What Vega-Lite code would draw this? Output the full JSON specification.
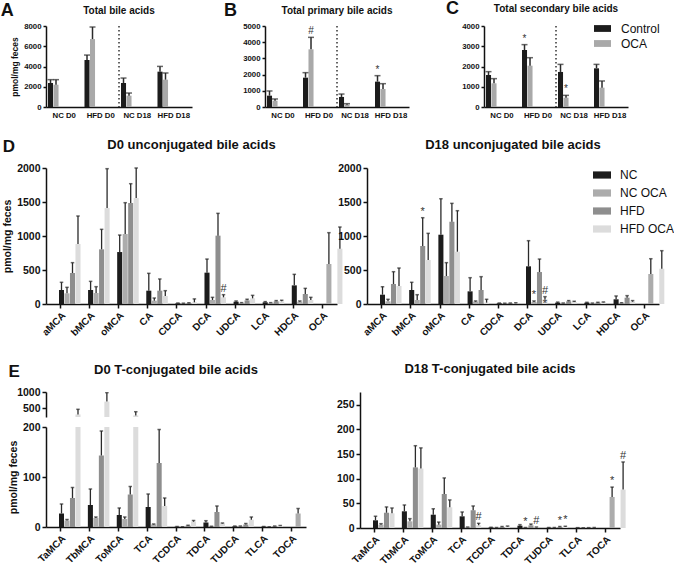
{
"$schema": "https://vega.github.io/schema/vega-lite/v6.json",
"padding": {"left": 0, "top": 0, "right": 0, "bottom": 0},
"background": "white",
"config": {
  "font": "Liberation Sans",
  "numberFormat": "d",
  "view": {"stroke": null},
  "axis": {"grid": false, "labelOverlap": false, "domainColor": "#111", "domainWidth": 1.5, "tickColor": "#111", "tickWidth": 1.5, "tickSize": 4, "labelFont": "Liberation Sans", "labelFontWeight": "bold", "labelFontSize": 10.5, "labelColor": "#111", "labelPadding": 2, "titleFont": "Liberation Sans", "titleFontWeight": "bold", "titleFontSize": 10.5, "titleColor": "#111", "titlePadding": 4},
  "title": {"font": "Liberation Sans", "fontWeight": "bold", "color": "#111"},
  "legend": {"labelFont": "Liberation Sans", "labelColor": "#111", "padding": 0}
},
"datasets": {
  "top": [
    {"p":"A","g":"NC D0","t":"Control","v":2370,"e":2700},
    {"p":"A","g":"NC D0","t":"OCA","v":2200,"e":2700},
    {"p":"A","g":"HFD D0","t":"Control","v":4640,"e":5130},
    {"p":"A","g":"HFD D0","t":"OCA","v":6710,"e":7900},
    {"p":"A","g":"NC D18","t":"Control","v":2370,"e":2860},
    {"p":"A","g":"NC D18","t":"OCA","v":1120,"e":1380},
    {"p":"A","g":"HFD D18","t":"Control","v":3490,"e":4010},
    {"p":"A","g":"HFD D18","t":"OCA","v":2700,"e":3360},
    {"p":"B","g":"NC D0","t":"Control","v":700,"e":990},
    {"p":"B","g":"NC D0","t":"OCA","v":390,"e":495},
    {"p":"B","g":"HFD D0","t":"Control","v":1810,"e":2120},
    {"p":"B","g":"HFD D0","t":"OCA","v":3560,"e":4300,"s":"#"},
    {"p":"B","g":"NC D18","t":"Control","v":620,"e":800},
    {"p":"B","g":"NC D18","t":"OCA","v":145,"e":205},
    {"p":"B","g":"HFD D18","t":"Control","v":1565,"e":1935,"s":"*"},
    {"p":"B","g":"HFD D18","t":"OCA","v":1110,"e":1440},
    {"p":"C","g":"NC D0","t":"Control","v":1580,"e":1745},
    {"p":"C","g":"NC D0","t":"OCA","v":1170,"e":1400},
    {"p":"C","g":"HFD D0","t":"Control","v":2815,"e":3080,"s":"*"},
    {"p":"C","g":"HFD D0","t":"OCA","v":2040,"e":2435},
    {"p":"C","g":"NC D18","t":"Control","v":1730,"e":2105},
    {"p":"C","g":"NC D18","t":"OCA","v":460,"e":575,"s":"*"},
    {"p":"C","g":"HFD D18","t":"Control","v":1910,"e":2105},
    {"p":"C","g":"HFD D18","t":"OCA","v":955,"e":1285}
  ],
  "sep": [{"g":"NC D18"}],
  "bars": [
    {"p":"D0","b":"aMCA","g":"NC","v":206,"e":319},
    {"p":"D0","b":"aMCA","g":"NC OCA","v":157,"e":245},
    {"p":"D0","b":"aMCA","g":"HFD","v":456,"e":608},
    {"p":"D0","b":"aMCA","g":"HFD OCA","v":882,"e":1294},
    {"p":"D0","b":"bMCA","g":"NC","v":206,"e":333},
    {"p":"D0","b":"bMCA","g":"NC OCA","v":162,"e":255},
    {"p":"D0","b":"bMCA","g":"HFD","v":804,"e":1098},
    {"p":"D0","b":"bMCA","g":"HFD OCA","v":1411,"e":1990},
    {"p":"D0","b":"oMCA","g":"NC","v":764,"e":1014},
    {"p":"D0","b":"oMCA","g":"NC OCA","v":1029,"e":1490},
    {"p":"D0","b":"oMCA","g":"HFD","v":1485,"e":1769},
    {"p":"D0","b":"oMCA","g":"HFD OCA","v":1558,"e":2000},
    {"p":"D0","b":"CA","g":"NC","v":196,"e":451},
    {"p":"D0","b":"CA","g":"NC OCA","v":49,"e":88},
    {"p":"D0","b":"CA","g":"HFD","v":196,"e":368},
    {"p":"D0","b":"CA","g":"HFD OCA","v":118,"e":196},
    {"p":"D0","b":"CDCA","g":"NC","v":10,"e":15},
    {"p":"D0","b":"CDCA","g":"NC OCA","v":8,"e":12},
    {"p":"D0","b":"CDCA","g":"HFD","v":12,"e":18},
    {"p":"D0","b":"CDCA","g":"HFD OCA","v":25,"e":75},
    {"p":"D0","b":"DCA","g":"NC","v":461,"e":661},
    {"p":"D0","b":"DCA","g":"NC OCA","v":59,"e":98},
    {"p":"D0","b":"DCA","g":"HFD","v":1005,"e":1333},
    {"p":"D0","b":"DCA","g":"HFD OCA","v":98,"e":137,"s":"#"},
    {"p":"D0","b":"UDCA","g":"NC","v":34,"e":45},
    {"p":"D0","b":"UDCA","g":"NC OCA","v":15,"e":20},
    {"p":"D0","b":"UDCA","g":"HFD","v":54,"e":70},
    {"p":"D0","b":"UDCA","g":"HFD OCA","v":83,"e":127},
    {"p":"D0","b":"LCA","g":"NC","v":25,"e":35},
    {"p":"D0","b":"LCA","g":"NC OCA","v":15,"e":20},
    {"p":"D0","b":"LCA","g":"HFD","v":39,"e":50},
    {"p":"D0","b":"LCA","g":"HFD OCA","v":39,"e":55},
    {"p":"D0","b":"HDCA","g":"NC","v":274,"e":436},
    {"p":"D0","b":"HDCA","g":"NC OCA","v":34,"e":45},
    {"p":"D0","b":"HDCA","g":"HFD","v":147,"e":230},
    {"p":"D0","b":"HDCA","g":"HFD OCA","v":59,"e":98},
    {"p":"D0","b":"OCA","g":"NC","v":0},
    {"p":"D0","b":"OCA","g":"NC OCA","v":588,"e":1049},
    {"p":"D0","b":"OCA","g":"HFD","v":0},
    {"p":"D0","b":"OCA","g":"HFD OCA","v":813,"e":1132},
    {"p":"D18","b":"aMCA","g":"NC","v":137,"e":255},
    {"p":"D18","b":"aMCA","g":"NC OCA","v":39,"e":69},
    {"p":"D18","b":"aMCA","g":"HFD","v":294,"e":475},
    {"p":"D18","b":"aMCA","g":"HFD OCA","v":265,"e":529},
    {"p":"D18","b":"bMCA","g":"NC","v":206,"e":319},
    {"p":"D18","b":"bMCA","g":"NC OCA","v":59,"e":137},
    {"p":"D18","b":"bMCA","g":"HFD","v":853,"e":1269,"s":"*"},
    {"p":"D18","b":"bMCA","g":"HFD OCA","v":647,"e":1039},
    {"p":"D18","b":"oMCA","g":"NC","v":1019,"e":1548},
    {"p":"D18","b":"oMCA","g":"NC OCA","v":412,"e":608},
    {"p":"D18","b":"oMCA","g":"HFD","v":1210,"e":1480},
    {"p":"D18","b":"oMCA","g":"HFD OCA","v":769,"e":1372},
    {"p":"D18","b":"CA","g":"NC","v":186,"e":387},
    {"p":"D18","b":"CA","g":"NC OCA","v":34,"e":45},
    {"p":"D18","b":"CA","g":"HFD","v":206,"e":402},
    {"p":"D18","b":"CA","g":"HFD OCA","v":20,"e":69},
    {"p":"D18","b":"CDCA","g":"NC","v":10,"e":15},
    {"p":"D18","b":"CDCA","g":"NC OCA","v":8,"e":12},
    {"p":"D18","b":"CDCA","g":"HFD","v":10,"e":15},
    {"p":"D18","b":"CDCA","g":"HFD OCA","v":12,"e":18},
    {"p":"D18","b":"DCA","g":"NC","v":554,"e":931},
    {"p":"D18","b":"DCA","g":"NC OCA","v":30,"e":45,"s":"*"},
    {"p":"D18","b":"DCA","g":"HFD","v":470,"e":661},
    {"p":"D18","b":"DCA","g":"HFD OCA","v":69,"e":108,"s":"#\n*"},
    {"p":"D18","b":"UDCA","g":"NC","v":20,"e":28},
    {"p":"D18","b":"UDCA","g":"NC OCA","v":10,"e":15},
    {"p":"D18","b":"UDCA","g":"HFD","v":39,"e":50},
    {"p":"D18","b":"UDCA","g":"HFD OCA","v":29,"e":40},
    {"p":"D18","b":"LCA","g":"NC","v":20,"e":25},
    {"p":"D18","b":"LCA","g":"NC OCA","v":10,"e":14},
    {"p":"D18","b":"LCA","g":"HFD","v":20,"e":25},
    {"p":"D18","b":"LCA","g":"HFD OCA","v":25,"e":30},
    {"p":"D18","b":"HDCA","g":"NC","v":69,"e":118},
    {"p":"D18","b":"HDCA","g":"NC OCA","v":15,"e":20},
    {"p":"D18","b":"HDCA","g":"HFD","v":93,"e":123},
    {"p":"D18","b":"HDCA","g":"HFD OCA","v":34,"e":50},
    {"p":"D18","b":"OCA","g":"NC","v":0},
    {"p":"D18","b":"OCA","g":"NC OCA","v":441,"e":666},
    {"p":"D18","b":"OCA","g":"HFD","v":0},
    {"p":"D18","b":"OCA","g":"HFD OCA","v":519,"e":784},
    {"p":"E0","b":"TaMCA","g":"NC","v":27,"e":46},
    {"p":"E0","b":"TaMCA","g":"NC OCA","v":13,"e":15},
    {"p":"E0","b":"TaMCA","g":"HFD","v":58,"e":79},
    {"p":"E0","b":"TaMCA","g":"HFD OCA","v":300,"e":460},
    {"p":"E0","b":"TbMCA","g":"NC","v":44,"e":76},
    {"p":"E0","b":"TbMCA","g":"NC OCA","v":18,"e":20},
    {"p":"E0","b":"TbMCA","g":"HFD","v":143,"e":192},
    {"p":"E0","b":"TbMCA","g":"HFD OCA","v":700,"e":980},
    {"p":"E0","b":"ToMCA","g":"NC","v":24,"e":38},
    {"p":"E0","b":"ToMCA","g":"NC OCA","v":16,"e":20},
    {"p":"E0","b":"ToMCA","g":"HFD","v":65,"e":81},
    {"p":"E0","b":"ToMCA","g":"HFD OCA","v":270,"e":385},
    {"p":"E0","b":"TCA","g":"NC","v":40,"e":66},
    {"p":"E0","b":"TCA","g":"NC OCA","v":5,"e":6},
    {"p":"E0","b":"TCA","g":"HFD","v":128,"e":195},
    {"p":"E0","b":"TCA","g":"HFD OCA","v":42,"e":58},
    {"p":"E0","b":"TCDCA","g":"NC","v":0.5,"e":1},
    {"p":"E0","b":"TCDCA","g":"NC OCA","v":0.3,"e":0.5},
    {"p":"E0","b":"TCDCA","g":"HFD","v":2.6,"e":3.5},
    {"p":"E0","b":"TCDCA","g":"HFD OCA","v":10.6,"e":13},
    {"p":"E0","b":"TDCA","g":"NC","v":9,"e":12.6},
    {"p":"E0","b":"TDCA","g":"NC OCA","v":1,"e":1.5},
    {"p":"E0","b":"TDCA","g":"HFD","v":30,"e":42},
    {"p":"E0","b":"TDCA","g":"HFD OCA","v":7,"e":8},
    {"p":"E0","b":"TUDCA","g":"NC","v":1.3,"e":2},
    {"p":"E0","b":"TUDCA","g":"NC OCA","v":1.3,"e":2},
    {"p":"E0","b":"TUDCA","g":"HFD","v":5,"e":7},
    {"p":"E0","b":"TUDCA","g":"HFD OCA","v":14.6,"e":20},
    {"p":"E0","b":"TLCA","g":"NC","v":0.7,"e":1},
    {"p":"E0","b":"TLCA","g":"NC OCA","v":0.2,"e":0.3},
    {"p":"E0","b":"TLCA","g":"HFD","v":1.3,"e":2},
    {"p":"E0","b":"TLCA","g":"HFD OCA","v":2.6,"e":3},
    {"p":"E0","b":"TOCA","g":"NC","v":0},
    {"p":"E0","b":"TOCA","g":"NC OCA","v":27,"e":37},
    {"p":"E0","b":"TOCA","g":"HFD","v":0},
    {"p":"E0","b":"TOCA","g":"HFD OCA","v":270,"e":385},
    {"p":"E18","b":"TaMCA","g":"NC","v":15.6,"e":23.7},
    {"p":"E18","b":"TaMCA","g":"NC OCA","v":6.8,"e":8.8},
    {"p":"E18","b":"TaMCA","g":"HFD","v":31,"e":42.7},
    {"p":"E18","b":"TaMCA","g":"HFD OCA","v":29.8,"e":40.6},
    {"p":"E18","b":"TbMCA","g":"NC","v":33.9,"e":46.7},
    {"p":"E18","b":"TbMCA","g":"NC OCA","v":13.5,"e":19},
    {"p":"E18","b":"TbMCA","g":"HFD","v":123,"e":167},
    {"p":"E18","b":"TbMCA","g":"HFD OCA","v":120.6,"e":162.6},
    {"p":"E18","b":"ToMCA","g":"NC","v":27,"e":39},
    {"p":"E18","b":"ToMCA","g":"NC OCA","v":6.8,"e":12},
    {"p":"E18","b":"ToMCA","g":"HFD","v":69,"e":101.6},
    {"p":"E18","b":"ToMCA","g":"HFD OCA","v":42,"e":57},
    {"p":"E18","b":"TCA","g":"NC","v":23.7,"e":32.5},
    {"p":"E18","b":"TCA","g":"NC OCA","v":1.4,"e":2},
    {"p":"E18","b":"TCA","g":"HFD","v":36,"e":44.7},
    {"p":"E18","b":"TCA","g":"HFD OCA","v":5.4,"e":9.5,"s":"#"},
    {"p":"E18","b":"TCDCA","g":"NC","v":1,"e":1.5},
    {"p":"E18","b":"TCDCA","g":"NC OCA","v":0.5,"e":1},
    {"p":"E18","b":"TCDCA","g":"HFD","v":2,"e":3},
    {"p":"E18","b":"TCDCA","g":"HFD OCA","v":3,"e":4},
    {"p":"E18","b":"TDCA","g":"NC","v":4.7,"e":6.8},
    {"p":"E18","b":"TDCA","g":"NC OCA","v":0.7,"e":1,"s":"*"},
    {"p":"E18","b":"TDCA","g":"HFD","v":5.4,"e":8},
    {"p":"E18","b":"TDCA","g":"HFD OCA","v":1.4,"e":2,"s":"#"},
    {"p":"E18","b":"TUDCA","g":"NC","v":0.5,"e":1},
    {"p":"E18","b":"TUDCA","g":"NC OCA","v":0.5,"e":1},
    {"p":"E18","b":"TUDCA","g":"HFD","v":2,"e":3,"s":"*"},
    {"p":"E18","b":"TUDCA","g":"HFD OCA","v":2.7,"e":3.5,"s":"*"},
    {"p":"E18","b":"TLCA","g":"NC","v":0.5,"e":0.7},
    {"p":"E18","b":"TLCA","g":"NC OCA","v":0.3,"e":0.5},
    {"p":"E18","b":"TLCA","g":"HFD","v":0.5,"e":0.7},
    {"p":"E18","b":"TLCA","g":"HFD OCA","v":0.7,"e":1},
    {"p":"E18","b":"TOCA","g":"NC","v":0},
    {"p":"E18","b":"TOCA","g":"NC OCA","v":63,"e":83,"s":"*"},
    {"p":"E18","b":"TOCA","g":"HFD","v":0},
    {"p":"E18","b":"TOCA","g":"HFD OCA","v":78,"e":134,"s":"#"}
  ]
},
"spacing": 19,
"resolve": {"scale": {"color": "independent"}, "legend": {"color": "independent"}},
"vconcat": [
  {
    "spacing": 32,
    "resolve": {"scale": {"color": "independent"}, "legend": {"color": "independent"}},
    "hconcat": [
      {
        "title": {"text": "A", "anchor": "start", "frame": "bounds", "fontSize": 18, "dx": -10, "dy": 14, "offset": 0},
        "resolve": {"scale": {"color": "independent"}, "legend": {"color": "independent"}},
        "vconcat": [{
          "width": 146, "height": 81,
          "title": {"text": "Total bile acids", "fontSize": 10, "frame": "group", "anchor": "middle", "offset": 6},
          "data": {"name": "top"},
          "transform": [{"filter": "datum.p == 'A'"}],
          "encoding": {"x": {"field": "g", "type": "nominal", "scale": {"domain": ["NC D0","HFD D0","NC D18","HFD D18"], "paddingInner": 0, "paddingOuter": 0}, "axis": {"title": null, "labelAngle": 0, "ticks": false, "labelFontSize": 7.8, "labelPadding": 4}}},
          "layer": [
            {"mark": {"type": "bar"}, "encoding": {"xOffset": {"field": "t", "type": "nominal", "scale": {"domain": ["Control","OCA"], "paddingInner": 0.08, "paddingOuter": 0.36}}, "y": {"field": "v", "type": "quantitative", "scale": {"domain": [0, 8000], "nice": false}, "axis": {"values": [0,2000,4000,6000,8000], "labelOverlap": false, "title": "pmol/mg feces", "labelFontSize": 7.8, "titleFontSize": 8.5, "tickSize": 3}}, "color": {"field": "t", "type": "nominal", "scale": {"domain": ["Control","OCA"], "range": ["#1c1c1c","#a9a9a9"]}, "legend": null}}},
            {"mark": {"type": "rule", "color": "#2a2a2a", "strokeWidth": 1.5}, "encoding": {"xOffset": {"field": "t", "type": "nominal"}, "y": {"field": "v", "type": "quantitative", "axis": {"values": [0,2000,4000,6000,8000], "labelOverlap": false, "title": "pmol/mg feces", "labelFontSize": 7.8, "titleFontSize": 8.5, "tickSize": 3}}, "y2": {"field": "e"}}},
            {"mark": {"type": "tick", "color": "#2a2a2a", "thickness": 1.5, "size": 6}, "encoding": {"xOffset": {"field": "t", "type": "nominal"}, "y": {"field": "e", "type": "quantitative", "axis": {"values": [0,2000,4000,6000,8000], "labelOverlap": false, "title": "pmol/mg feces", "labelFontSize": 7.8, "titleFontSize": 8.5, "tickSize": 3}}}},
            {"transform": [{"filter": "isValid(datum.s)"}], "mark": {"type": "text", "baseline": "bottom", "dy": -1, "fontSize": 10, "color": "#333"}, "encoding": {"xOffset": {"field": "t", "type": "nominal"}, "y": {"field": "e", "type": "quantitative", "axis": {"values": [0,2000,4000,6000,8000], "labelOverlap": false, "title": "pmol/mg feces", "labelFontSize": 7.8, "titleFontSize": 8.5, "tickSize": 3}}, "text": {"field": "s"}}},
            {"data": {"name": "sep"}, "mark": {"type": "rule", "strokeDash": [1.5, 2.5], "strokeWidth": 1.5, "color": "#333"}, "encoding": {"x": {"field": "g", "type": "nominal", "bandPosition": 0}}}
          ]
        }]
      },
      {
        "title": {"text": "B", "anchor": "start", "frame": "bounds", "fontSize": 18, "dx": 0, "dy": 14, "offset": 0},
        "resolve": {"scale": {"color": "independent"}, "legend": {"color": "independent"}},
        "vconcat": [{
          "width": 144, "height": 81,
          "title": {"text": "Total primary bile acids", "fontSize": 10, "frame": "group", "anchor": "middle", "offset": 6},
          "data": {"name": "top"},
          "transform": [{"filter": "datum.p == 'B'"}],
          "encoding": {"x": {"field": "g", "type": "nominal", "scale": {"domain": ["NC D0","HFD D0","NC D18","HFD D18"], "paddingInner": 0, "paddingOuter": 0}, "axis": {"title": null, "labelAngle": 0, "ticks": false, "labelFontSize": 7.8, "labelPadding": 4}}},
          "layer": [
            {"mark": {"type": "bar"}, "encoding": {"xOffset": {"field": "t", "type": "nominal", "scale": {"domain": ["Control","OCA"], "paddingInner": 0.08, "paddingOuter": 0.36}}, "y": {"field": "v", "type": "quantitative", "scale": {"domain": [0, 5000], "nice": false}, "axis": {"values": [0,1000,2000,3000,4000,5000], "labelOverlap": false, "title": null, "labelFontSize": 7.8, "tickSize": 3, "minExtent": 41}}, "color": {"field": "t", "type": "nominal", "scale": {"domain": ["Control","OCA"], "range": ["#1c1c1c","#a9a9a9"]}, "legend": null}}},
            {"mark": {"type": "rule", "color": "#2a2a2a", "strokeWidth": 1.5}, "encoding": {"xOffset": {"field": "t", "type": "nominal"}, "y": {"field": "v", "type": "quantitative", "axis": {"values": [0,1000,2000,3000,4000,5000], "labelOverlap": false, "title": null, "labelFontSize": 7.8, "tickSize": 3, "minExtent": 41}}, "y2": {"field": "e"}}},
            {"mark": {"type": "tick", "color": "#2a2a2a", "thickness": 1.5, "size": 6}, "encoding": {"xOffset": {"field": "t", "type": "nominal"}, "y": {"field": "e", "type": "quantitative", "axis": {"values": [0,1000,2000,3000,4000,5000], "labelOverlap": false, "title": null, "labelFontSize": 7.8, "tickSize": 3, "minExtent": 41}}}},
            {"transform": [{"filter": "isValid(datum.s)"}], "mark": {"type": "text", "baseline": "bottom", "dy": -1, "fontSize": 10, "color": "#333"}, "encoding": {"xOffset": {"field": "t", "type": "nominal"}, "y": {"field": "e", "type": "quantitative", "axis": {"values": [0,1000,2000,3000,4000,5000], "labelOverlap": false, "title": null, "labelFontSize": 7.8, "tickSize": 3, "minExtent": 41}}, "text": {"field": "s"}}},
            {"data": {"name": "sep"}, "mark": {"type": "rule", "strokeDash": [1.5, 2.5], "strokeWidth": 1.5, "color": "#333"}, "encoding": {"x": {"field": "g", "type": "nominal", "bandPosition": 0}}}
          ]
        }]
      },
      {
        "title": {"text": "C", "anchor": "start", "frame": "bounds", "fontSize": 18, "dx": 5, "dy": 14, "offset": 0},
        "resolve": {"scale": {"color": "independent"}, "legend": {"color": "independent"}},
        "vconcat": [{
          "width": 144, "height": 81,
          "title": {"text": "Total secondary bile acids", "fontSize": 10, "frame": "group", "anchor": "middle", "offset": 6},
          "data": {"name": "top"},
          "transform": [{"filter": "datum.p == 'C'"}],
          "encoding": {"x": {"field": "g", "type": "nominal", "scale": {"domain": ["NC D0","HFD D0","NC D18","HFD D18"], "paddingInner": 0, "paddingOuter": 0}, "axis": {"title": null, "labelAngle": 0, "ticks": false, "labelFontSize": 7.8, "labelPadding": 4}}},
          "layer": [
            {"mark": {"type": "bar"}, "encoding": {"xOffset": {"field": "t", "type": "nominal", "scale": {"domain": ["Control","OCA"], "paddingInner": 0.08, "paddingOuter": 0.36}}, "y": {"field": "v", "type": "quantitative", "scale": {"domain": [0, 4000], "nice": false}, "axis": {"values": [0,1000,2000,3000,4000], "labelOverlap": false, "title": null, "labelFontSize": 7.8, "tickSize": 3, "minExtent": 43}}, "color": {"field": "t", "type": "nominal", "scale": {"domain": ["Control","OCA"], "range": ["#1c1c1c","#a9a9a9"]}, "legend": {"orient": "none", "legendX": 110, "legendY": -6, "title": null, "labelFontSize": 12, "labelFontWeight": "normal", "symbolType": "M-1,-0.4H1V0.4H-1Z", "symbolSize": 289, "symbolStrokeWidth": 0, "rowPadding": 0, "labelOffset": 10}}}},
            {"mark": {"type": "rule", "color": "#2a2a2a", "strokeWidth": 1.5}, "encoding": {"xOffset": {"field": "t", "type": "nominal"}, "y": {"field": "v", "type": "quantitative", "axis": {"values": [0,1000,2000,3000,4000], "labelOverlap": false, "title": null, "labelFontSize": 7.8, "tickSize": 3, "minExtent": 43}}, "y2": {"field": "e"}}},
            {"mark": {"type": "tick", "color": "#2a2a2a", "thickness": 1.5, "size": 6}, "encoding": {"xOffset": {"field": "t", "type": "nominal"}, "y": {"field": "e", "type": "quantitative", "axis": {"values": [0,1000,2000,3000,4000], "labelOverlap": false, "title": null, "labelFontSize": 7.8, "tickSize": 3, "minExtent": 43}}}},
            {"transform": [{"filter": "isValid(datum.s)"}], "mark": {"type": "text", "baseline": "bottom", "dy": -1, "fontSize": 10, "color": "#333"}, "encoding": {"xOffset": {"field": "t", "type": "nominal"}, "y": {"field": "e", "type": "quantitative", "axis": {"values": [0,1000,2000,3000,4000], "labelOverlap": false, "title": null, "labelFontSize": 7.8, "tickSize": 3, "minExtent": 43}}, "text": {"field": "s"}}},
            {"data": {"name": "sep"}, "mark": {"type": "rule", "strokeDash": [1.5, 2.5], "strokeWidth": 1.5, "color": "#333"}, "encoding": {"x": {"field": "g", "type": "nominal", "bandPosition": 0}}}
          ]
        }]
      }
    ]
  },
  {
    "spacing": 25,
    "resolve": {"scale": {"color": "independent"}, "legend": {"color": "independent"}},
    "vconcat": [
      {
        "spacing": -6,
        "resolve": {"scale": {"color": "independent"}, "legend": {"color": "independent"}},
        "hconcat": [
          {
            "title": {"text": "D", "anchor": "start", "frame": "bounds", "fontSize": 17, "dy": 17, "offset": 0},
            "resolve": {"scale": {"color": "independent"}, "legend": {"color": "independent"}},
            "vconcat": [{
              "width": 291, "height": 136,
              "title": {"text": "D0 unconjugated bile acids", "fontSize": 13, "frame": "group", "anchor": "middle", "offset": 11},
              "data": {"name": "bars"},
              "transform": [{"filter": "datum.p == 'D0'"}],
              "encoding": {"x": {"field": "b", "type": "nominal", "scale": {"domain": ["aMCA","bMCA","oMCA","CA","CDCA","DCA","UDCA","LCA","HDCA","OCA"], "paddingInner": 0, "paddingOuter": 0}, "axis": {"title": null, "labelAngle": -45, "labelFontSize": 10}}},
              "layer": [
                {"mark": {"type": "bar"}, "encoding": {"xOffset": {"field": "g", "type": "nominal", "scale": {"domain": ["NC","NC OCA","HFD","HFD OCA"], "paddingInner": 0, "paddingOuter": 0.55}}, "y": {"field": "v", "type": "quantitative", "scale": {"domain": [0, 2000], "nice": false}, "axis": {"values": [0,500,1000,1500,2000], "labelOverlap": false, "title": "pmol/mg feces"}}, "color": {"field": "g", "type": "nominal", "scale": {"domain": ["NC","NC OCA","HFD","HFD OCA"], "range": ["#1c1c1c","#acacac","#8e8e8e","#dcdcdc"]}, "legend": null}}},
                {"transform": [{"filter": "isValid(datum.e)"}], "mark": {"type": "rule", "color": "#2a2a2a", "strokeWidth": 1.3}, "encoding": {"xOffset": {"field": "g", "type": "nominal"}, "y": {"field": "v", "type": "quantitative", "axis": {"values": [0,500,1000,1500,2000], "labelOverlap": false, "title": "pmol/mg feces"}}, "y2": {"field": "e"}}},
                {"transform": [{"filter": "isValid(datum.e)"}], "mark": {"type": "tick", "color": "#2a2a2a", "thickness": 1.5, "size": 3.5}, "encoding": {"xOffset": {"field": "g", "type": "nominal"}, "y": {"field": "e", "type": "quantitative", "axis": {"values": [0,500,1000,1500,2000], "labelOverlap": false, "title": "pmol/mg feces"}}}},
                {"transform": [{"filter": "isValid(datum.s)"}], "mark": {"type": "text", "baseline": "bottom", "dy": -1, "fontSize": 11, "color": "#333", "lineBreak": "\n"}, "encoding": {"xOffset": {"field": "g", "type": "nominal"}, "y": {"field": "e", "type": "quantitative", "axis": {"values": [0,500,1000,1500,2000], "labelOverlap": false, "title": "pmol/mg feces"}}, "text": {"field": "s"}}}
              ]
            }]
          },
          {
            "width": 292, "height": 136,
            "title": {"text": "D18 unconjugated bile acids", "fontSize": 13, "frame": "group", "anchor": "middle", "offset": 11},
            "data": {"name": "bars"},
            "transform": [{"filter": "datum.p == 'D18'"}],
            "encoding": {"x": {"field": "b", "type": "nominal", "scale": {"domain": ["aMCA","bMCA","oMCA","CA","CDCA","DCA","UDCA","LCA","HDCA","OCA"], "paddingInner": 0, "paddingOuter": 0}, "axis": {"title": null, "labelAngle": -45, "labelFontSize": 10}}},
            "layer": [
              {"mark": {"type": "bar"}, "encoding": {"xOffset": {"field": "g", "type": "nominal", "scale": {"domain": ["NC","NC OCA","HFD","HFD OCA"], "paddingInner": 0, "paddingOuter": 0.55}}, "y": {"field": "v", "type": "quantitative", "scale": {"domain": [0, 2000], "nice": false}, "axis": {"values": [0,500,1000,1500,2000], "labelOverlap": false, "title": null}}, "color": {"field": "g", "type": "nominal", "scale": {"domain": ["NC","NC OCA","HFD","HFD OCA"], "range": ["#1c1c1c","#acacac","#8e8e8e","#dcdcdc"]}, "legend": {"orient": "none", "legendX": 226, "legendY": -2, "title": null, "labelFontSize": 12, "labelFontWeight": "normal", "symbolType": "M-1,-0.4H1V0.4H-1Z", "symbolSize": 324, "symbolStrokeWidth": 0, "rowPadding": 3, "labelOffset": 9}}}},
              {"transform": [{"filter": "isValid(datum.e)"}], "mark": {"type": "rule", "color": "#2a2a2a", "strokeWidth": 1.3}, "encoding": {"xOffset": {"field": "g", "type": "nominal"}, "y": {"field": "v", "type": "quantitative", "axis": {"values": [0,500,1000,1500,2000], "labelOverlap": false, "title": null}}, "y2": {"field": "e"}}},
              {"transform": [{"filter": "isValid(datum.e)"}], "mark": {"type": "tick", "color": "#2a2a2a", "thickness": 1.5, "size": 3.5}, "encoding": {"xOffset": {"field": "g", "type": "nominal"}, "y": {"field": "e", "type": "quantitative", "axis": {"values": [0,500,1000,1500,2000], "labelOverlap": false, "title": null}}}},
              {"transform": [{"filter": "isValid(datum.s)"}], "mark": {"type": "text", "baseline": "bottom", "dy": -1, "fontSize": 11, "color": "#333", "lineBreak": "\n"}, "encoding": {"xOffset": {"field": "g", "type": "nominal"}, "y": {"field": "e", "type": "quantitative", "axis": {"values": [0,500,1000,1500,2000], "labelOverlap": false, "title": null}}, "text": {"field": "s"}}}
            ]
          }
        ]
      },
      {
        "spacing": 30,
        "resolve": {"scale": {"color": "independent"}, "legend": {"color": "independent"}},
        "hconcat": [
          {
            "title": {"text": "E", "anchor": "start", "frame": "bounds", "fontSize": 17, "dy": 17, "offset": 0},
            "spacing": 5,
            "resolve": {"scale": {"color": "independent"}, "legend": {"color": "independent"}},
            "vconcat": [
              {
                "width": 260, "height": 25,
                "title": {"text": "D0 T-conjugated bile acids", "fontSize": 13, "frame": "group", "anchor": "middle", "offset": 10},
                "data": {"name": "bars"},
                "transform": [{"filter": "datum.p == 'E0' && datum.v > 220"}],
                "encoding": {"x": {"field": "b", "type": "nominal", "scale": {"domain": ["TaMCA","TbMCA","ToMCA","TCA","TCDCA","TDCA","TUDCA","TLCA","TOCA"], "paddingInner": 0, "paddingOuter": 0}, "axis": null}},
                "layer": [
                  {"mark": {"type": "bar", "clip": true}, "encoding": {"xOffset": {"field": "g", "type": "nominal", "scale": {"domain": ["NC","NC OCA","HFD","HFD OCA"], "paddingInner": 0, "paddingOuter": 0.49}}, "y": {"field": "v", "type": "quantitative", "scale": {"domain": [220, 1000], "nice": false, "zero": false}, "axis": {"values": [500, 1000], "labelOverlap": false, "title": null}}, "color": {"field": "g", "type": "nominal", "scale": {"domain": ["NC","NC OCA","HFD","HFD OCA"], "range": ["#1c1c1c","#acacac","#8e8e8e","#dcdcdc"]}, "legend": null}}},
                  {"mark": {"type": "rule", "color": "#2a2a2a", "strokeWidth": 1.3, "clip": true}, "encoding": {"xOffset": {"field": "g", "type": "nominal"}, "y": {"field": "v", "type": "quantitative"}, "y2": {"field": "e"}}},
                  {"mark": {"type": "tick", "color": "#2a2a2a", "thickness": 1.5, "size": 3.5, "clip": true}, "encoding": {"xOffset": {"field": "g", "type": "nominal"}, "y": {"field": "e", "type": "quantitative"}}}
                ]
              },
              {
                "width": 260, "height": 100,
                "data": {"name": "bars"},
                "transform": [{"filter": "datum.p == 'E0'"}],
                "encoding": {"x": {"field": "b", "type": "nominal", "scale": {"domain": ["TaMCA","TbMCA","ToMCA","TCA","TCDCA","TDCA","TUDCA","TLCA","TOCA"], "paddingInner": 0, "paddingOuter": 0}, "axis": {"title": null, "labelAngle": -45, "labelFontSize": 10}}},
                "layer": [
                  {"mark": {"type": "bar", "clip": true}, "encoding": {"xOffset": {"field": "g", "type": "nominal", "scale": {"domain": ["NC","NC OCA","HFD","HFD OCA"], "paddingInner": 0, "paddingOuter": 0.49}}, "y": {"field": "v", "type": "quantitative", "scale": {"domain": [0, 200], "nice": false}, "axis": {"values": [0,50,100,150,200], "labelOverlap": false, "title": "pmol/mg feces"}}, "color": {"field": "g", "type": "nominal", "scale": {"domain": ["NC","NC OCA","HFD","HFD OCA"], "range": ["#1c1c1c","#acacac","#8e8e8e","#dcdcdc"]}, "legend": null}}},
                  {"transform": [{"filter": "isValid(datum.e)"}], "mark": {"type": "rule", "color": "#2a2a2a", "strokeWidth": 1.3, "clip": true}, "encoding": {"xOffset": {"field": "g", "type": "nominal"}, "y": {"field": "v", "type": "quantitative"}, "y2": {"field": "e"}}},
                  {"transform": [{"filter": "isValid(datum.e)"}], "mark": {"type": "tick", "color": "#2a2a2a", "thickness": 1.5, "size": 3.5, "clip": true}, "encoding": {"xOffset": {"field": "g", "type": "nominal"}, "y": {"field": "e", "type": "quantitative"}}}
                ]
              }
            ]
          },
          {
            "width": 260, "height": 136,
            "title": {"text": "D18 T-conjugated bile acids", "fontSize": 13, "frame": "group", "anchor": "middle", "offset": 11, "dy": -5},
            "data": {"name": "bars"},
            "transform": [{"filter": "datum.p == 'E18'"}],
            "encoding": {"x": {"field": "b", "type": "nominal", "scale": {"domain": ["TaMCA","TbMCA","ToMCA","TCA","TCDCA","TDCA","TUDCA","TLCA","TOCA"], "paddingInner": 0, "paddingOuter": 0}, "axis": {"title": null, "labelAngle": -45, "labelFontSize": 10}}},
            "layer": [
              {"mark": {"type": "bar"}, "encoding": {"xOffset": {"field": "g", "type": "nominal", "scale": {"domain": ["NC","NC OCA","HFD","HFD OCA"], "paddingInner": 0, "paddingOuter": 0.49}}, "y": {"field": "v", "type": "quantitative", "scale": {"domain": [0, 276], "nice": false}, "axis": {"values": [0,50,100,150,200,250], "labelOverlap": false, "title": null}}, "color": {"field": "g", "type": "nominal", "scale": {"domain": ["NC","NC OCA","HFD","HFD OCA"], "range": ["#1c1c1c","#acacac","#8e8e8e","#dcdcdc"]}, "legend": null}}},
              {"transform": [{"filter": "isValid(datum.e)"}], "mark": {"type": "rule", "color": "#2a2a2a", "strokeWidth": 1.3}, "encoding": {"xOffset": {"field": "g", "type": "nominal"}, "y": {"field": "v", "type": "quantitative", "axis": {"values": [0,50,100,150,200,250], "labelOverlap": false, "title": null}}, "y2": {"field": "e"}}},
              {"transform": [{"filter": "isValid(datum.e)"}], "mark": {"type": "tick", "color": "#2a2a2a", "thickness": 1.5, "size": 3.5}, "encoding": {"xOffset": {"field": "g", "type": "nominal"}, "y": {"field": "e", "type": "quantitative", "axis": {"values": [0,50,100,150,200,250], "labelOverlap": false, "title": null}}}},
              {"transform": [{"filter": "isValid(datum.s)"}], "mark": {"type": "text", "baseline": "bottom", "dy": -1, "fontSize": 11, "color": "#333", "lineBreak": "\n"}, "encoding": {"xOffset": {"field": "g", "type": "nominal"}, "y": {"field": "e", "type": "quantitative", "axis": {"values": [0,50,100,150,200,250], "labelOverlap": false, "title": null}}, "text": {"field": "s"}}}
            ]
          }
        ]
      }
    ]
  }
]
}
